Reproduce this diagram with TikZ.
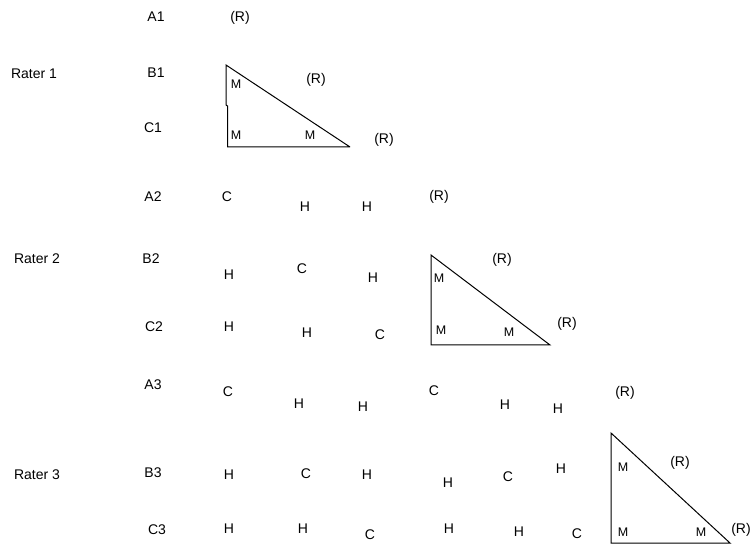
\documentclass[tikz,border=0pt]{standalone}
\usepackage{fontspec}
\setmainfont{Liberation Sans}
\begin{document}
\begin{tikzpicture}[x=1pt,y=-1pt,
  lbl/.style={inner sep=0pt,font=\fontsize{14}{16}\selectfont},
  mlbl/.style={inner sep=0pt,font=\fontsize{12.5}{15}\selectfont},
  tri/.style={draw=black,line width=1pt,line join=miter}]
\useasboundingbox (0,0) rectangle (753,545);
% ---- Rater 1 ----
\node[lbl] (r1) at (34,74) {Rater 1};
\node[lbl] (a1) at (156,17) {A1};
\node[lbl] (b1) at (156,73) {B1};
\node[lbl] (c1) at (153,128) {C1};
\node[lbl] (a1r) at (240,18) {(R)};
\node[lbl] (b1r) at (316,80) {(R)};
\node[lbl] (c1r) at (384,140) {(R)};
\coordinate (t1a) at (226,65);
\coordinate (t1k) at (226,105);
\coordinate (t1l) at (227.5,106);
\coordinate (t1b) at (227.5,147);
\coordinate (t1c) at (350,147);
\draw[tri] (t1c) -- (t1a) -- (t1k) -- (t1l) -- (t1b) -- (t1c);
\node[mlbl] (m11) at (236,84) {M};
\node[mlbl] (m12) at (236,135) {M};
\node[mlbl] (m13) at (310,135) {M};
% ---- Rater 2 ----
\node[lbl] (r2) at (37,259) {Rater 2};
\node[lbl] (a2) at (153,197) {A2};
\node[lbl] (b2) at (151,259) {B2};
\node[lbl] (c2) at (154,327) {C2};
\node[lbl] (a2c) at (227,197) {C};
\node[lbl] (a2h1) at (305,207) {H};
\node[lbl] (a2h2) at (367,207) {H};
\node[lbl] (a2r) at (439,197) {(R)};
\node[lbl] (b2h1) at (229,275) {H};
\node[lbl] (b2c) at (302,269) {C};
\node[lbl] (b2h2) at (373,278) {H};
\node[lbl] (b2r) at (502,260) {(R)};
\node[lbl] (c2h1) at (229,327) {H};
\node[lbl] (c2h2) at (307,333) {H};
\node[lbl] (c2c) at (380,335) {C};
\node[lbl] (c2r) at (567,324) {(R)};
\coordinate (t2a) at (431,255);
\coordinate (t2b) at (431,345);
\coordinate (t2c) at (550,345);
\draw[tri] (t2a) -- (t2b) -- (t2c) -- cycle;
\node[mlbl] (m21) at (439,278) {M};
\node[mlbl] (m22) at (441,330) {M};
\node[mlbl] (m23) at (509,332) {M};
% ---- Rater 3 ----
\node[lbl] (r3) at (37,475) {Rater 3};
\node[lbl] (a3) at (153,385) {A3};
\node[lbl] (b3) at (153,473) {B3};
\node[lbl] (c3) at (157,530) {C3};
\node[lbl] (a3c1) at (228,392) {C};
\node[lbl] (a3h1) at (299,404) {H};
\node[lbl] (a3h2) at (363,407) {H};
\node[lbl] (a3c2) at (434,391) {C};
\node[lbl] (a3h3) at (505,405) {H};
\node[lbl] (a3h4) at (558,409) {H};
\node[lbl] (a3r) at (625,393) {(R)};
\node[lbl] (b3h1) at (229,475) {H};
\node[lbl] (b3c1) at (306,474) {C};
\node[lbl] (b3h2) at (367,475) {H};
\node[lbl] (b3h3) at (448,483) {H};
\node[lbl] (b3c2) at (508,477) {C};
\node[lbl] (b3h4) at (561,469) {H};
\node[lbl] (b3r) at (680,463) {(R)};
\node[lbl] (c3h1) at (229,529) {H};
\node[lbl] (c3h2) at (303,529) {H};
\node[lbl] (c3c1) at (370,535) {C};
\node[lbl] (c3h3) at (449,529) {H};
\node[lbl] (c3h4) at (519,532) {H};
\node[lbl] (c3c2) at (577,534) {C};
\node[lbl] (c3r) at (741,530) {(R)};
\coordinate (t3a) at (611,433);
\coordinate (t3b) at (611,543);
\coordinate (t3c) at (730,543);
\draw[tri] (t3a) -- (t3b) -- (t3c) -- cycle;
\node[mlbl] (m31) at (623,467) {M};
\node[mlbl] (m32) at (623,532) {M};
\node[mlbl] (m33) at (701,532) {M};
\end{tikzpicture}
\end{document}
